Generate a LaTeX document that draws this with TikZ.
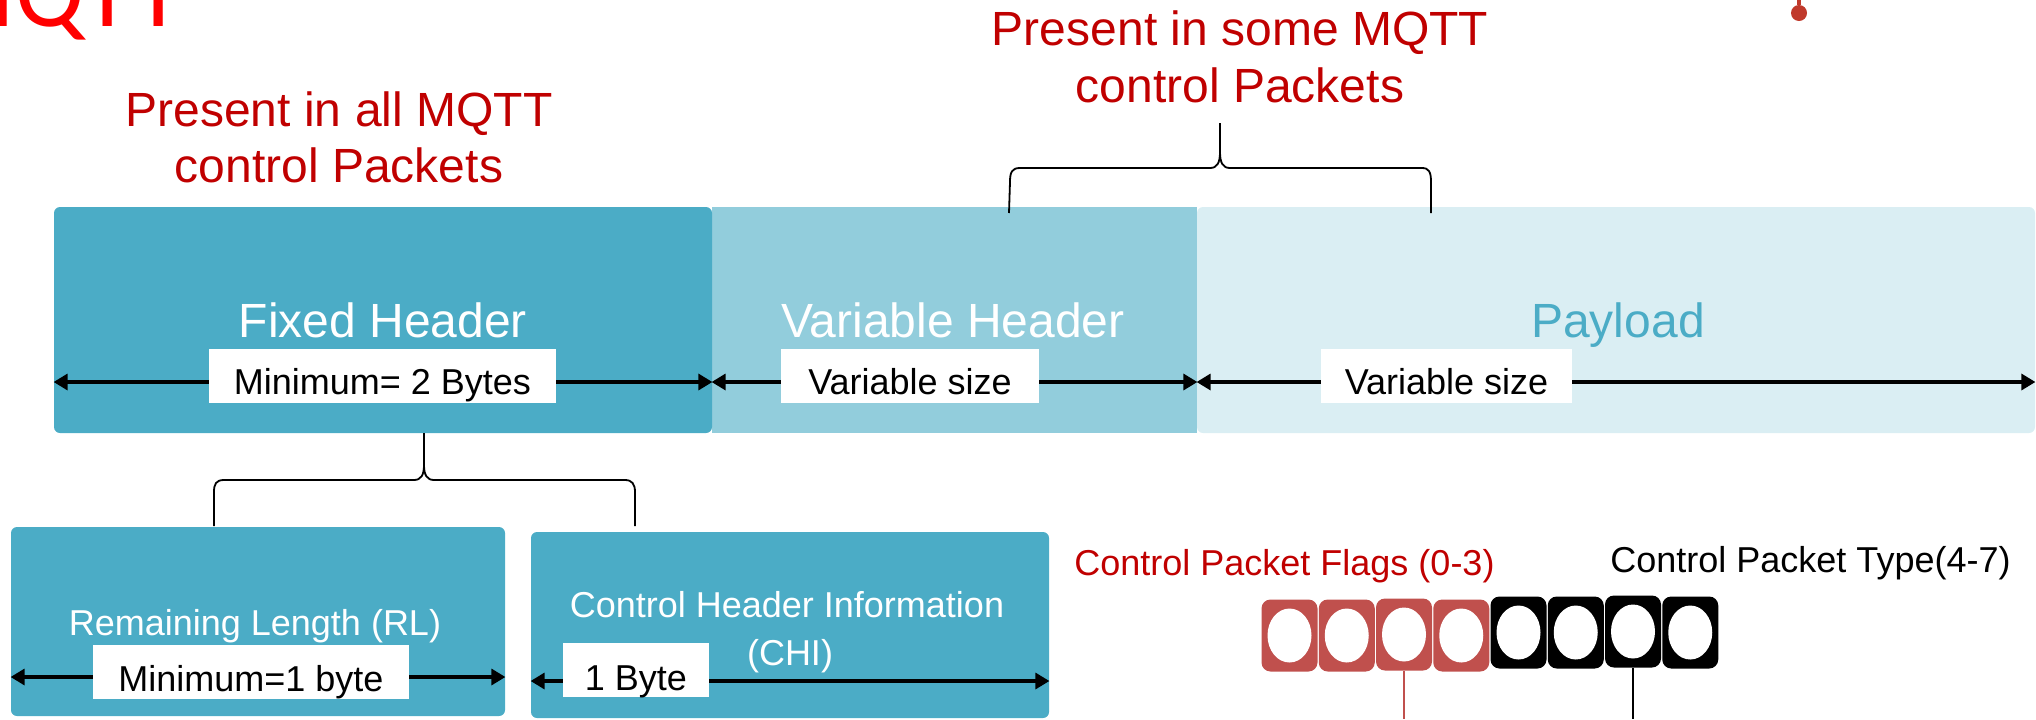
\documentclass[tikz,border=0pt]{standalone}
\usepackage{fontspec}
\setmainfont{Liberation Sans}
\newfontfamily\titlefont{Carlito}
\usetikzlibrary{arrows.meta,shapes.geometric}

\definecolor{hdrTeal}{HTML}{4BACC6}
\definecolor{midTeal}{HTML}{92CDDC}
\definecolor{paleTeal}{HTML}{DAEEF3}
\definecolor{noteRed}{HTML}{C00000}
\definecolor{bitRed}{HTML}{C0504D}
\definecolor{pinRed}{HTML}{C0392B}
\definecolor{titleRed}{HTML}{FF0000}

\begin{document}
\begin{tikzpicture}[x=0.5pt, y=-0.5pt,
  field/.style={rectangle, inner sep=0pt, draw=none},
  big/.style={font=\fontsize{24}{28}\selectfont, inner sep=0pt},
  small/.style={font=\fontsize{18}{21}\selectfont, inner sep=0pt},
  tag/.style={small, fill=white, minimum height=27pt, text height=18pt, text depth=0pt},
  dim/.style={{Triangle[length=7pt,width=8pt]}-{Triangle[length=7pt,width=8pt]}, line width=1.6pt, black},
  brace/.style={line width=0.9pt, black},
  bit/.style={rectangle, rounded corners=4.5pt, inner sep=0pt, minimum width=28pt, minimum height=36pt},
  hole/.style={ellipse, fill=white, inner sep=0pt, minimum width=22pt, minimum height=27pt}]

\useasboundingbox (0,0) rectangle (2036,719);

% partially visible title
\node[anchor=base west, inner sep=0pt, text=titleRed, font=\titlefont\fontsize{51.5}{60}\selectfont] (title) at (-73,26) {MQTT};

% pin marker
\coordinate (pinTop) at (1799,-10);
\node[circle, fill=pinRed, inner sep=0pt, minimum size=8pt] (pin) at (1799,13) {};
\draw[pinRed, line width=2.2pt] (pinTop) -- (pin);

% reference rows and edges
\coordinate (rowA) at (0,382);
\coordinate (rowB) at (0,677);
\coordinate (rowC) at (0,681);
\coordinate (bottomEdge) at (0,719);

% packet fields
\node[field, fill=paleTeal, rounded corners=3pt, minimum width=419pt, minimum height=113pt] (pl) at (1616,320) {};
\node[field, fill=midTeal, minimum width=242.5pt, minimum height=113pt] (vh) at (954.5,320) {};
\node[field, fill=hdrTeal, rounded corners=3pt, minimum width=329pt, minimum height=113pt] (fh) at (383,320) {};

% fixed header parts
\node[field, fill=hdrTeal, rounded corners=3pt, minimum width=247pt, minimum height=94.5pt] (rl) at (258,621.5) {};
\node[field, fill=hdrTeal, rounded corners=3pt, minimum width=259pt, minimum height=93pt] (chi) at (790,625) {};

% size arrows
\draw[dim] (fh.west |- rowA) -- (fh.east |- rowA);
\draw[dim] (vh.west |- rowA) -- (vh.east |- rowA);
\draw[dim] (pl.west |- rowA) -- (pl.east |- rowA);
\draw[dim] (rl.west |- rowB) -- (rl.east |- rowB);
\draw[dim] (chi.west |- rowC) -- (chi.east |- rowC);

% field titles
\node[big, text=white, anchor=base] (fhText) at (383,337) {Fixed Header};
\node[big, text=white, anchor=base] (vhText) at (953,337) {Variable Header};
\node[big, text=hdrTeal, anchor=base] (plText) at (1618,337) {Payload};
\node[small, text=white, anchor=base] (rlText) at (255,635) {Remaining Length (RL)};
\node[small, text=white, anchor=base] (chiTextA) at (787,617) {Control Header Information};
\node[small, text=white, anchor=base] (chiTextB) at (790,665) {(CHI)};

% size labels
\node[tag, minimum width=173.5pt] (fhSize) at (382.5,376) {Minimum= 2 Bytes};
\node[tag, minimum width=129pt] (vhSize) at (910,376) {Variable size};
\node[tag, minimum width=125.5pt] (plSize) at (1446.5,376) {Variable size};
\node[tag, minimum width=158pt, text height=19pt] (rlSize) at (251,672) {Minimum=1 byte};
\node[tag, minimum width=73pt, text height=20pt] (chiSize) at (636,670) {1 Byte};

% notes
\node[big, text=noteRed, anchor=base] (allA) at (339,126) {Present in all MQTT};
\node[big, text=noteRed, anchor=base] (allB) at (339,182) {control Packets};
\node[big, text=noteRed, anchor=base] (someA) at (1240,45) {Present in some MQTT};
\node[big, text=noteRed, anchor=base] (someB) at (1240,102) {control Packets};

% brace over variable header and payload
\draw[brace] (1009,213) -- (1010,182) .. controls (1010,172) and (1012,168) .. (1020,168) -- (1210,168) .. controls (1217,168) and (1220,163) .. (1220,152) -- (1220,123);
\draw[brace] (1220,123) -- (1220,152) .. controls (1220,163) and (1223,168) .. (1230,168) -- (1422,168) .. controls (1429,168) and (1431,172) .. (1431,182) -- (1431,213);

% brace under fixed header
\draw[brace] (214,526) -- (214,492) .. controls (214,484) and (216,480) .. (224,480) -- (414,480) .. controls (421,480) and (424,475) .. (424,465) -- (424,433);
\draw[brace] (424,433) -- (424,465) .. controls (424,475) and (427,480) .. (434,480) -- (625,480) .. controls (632,480) and (635,484) .. (635,492) -- (635,526);

% first byte bits
\node[small, text=noteRed, anchor=base west] (flagsText) at (1074,575) {Control Packet Flags (0-3)};
\node[small, text=black, anchor=base west] (typeText) at (1610,572) {Control Packet Type(4-7)};
\foreach \i/\c/\yy in {1/bitRed/635.5, 2/bitRed/635.5, 3/bitRed/634.5, 4/bitRed/635.5,
                       5/black/632.5, 6/black/632.5, 7/black/631.5, 8/black/632.5} {
  \node[bit, fill=\c] (b\i) at ({1289.5+(\i-1)*57.25},\yy) {};
  \node[hole] (h\i) at (b\i.center) {};
}
\draw[bitRed, line width=1.3pt] (b3.south) -- (b3.south |- bottomEdge);
\draw[black, line width=1.3pt] (b7.south) -- (b7.south |- bottomEdge);

\end{tikzpicture}
\end{document}
